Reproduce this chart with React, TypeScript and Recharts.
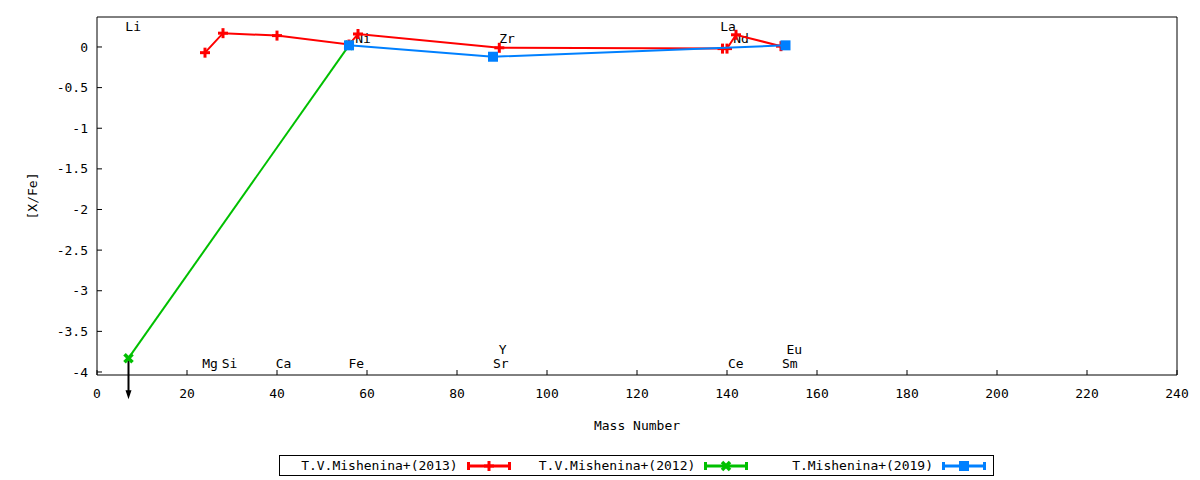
import React from 'react';
import { ScatterChart, Scatter, XAxis, YAxis } from 'recharts';

// T.V.Mishenina+(2013)
const redMass = [24, 28, 40, 56, 58, 89.4, 139, 140, 142, 152];
const redXFe = [-0.07, 0.17, 0.14, 0.03, 0.16, -0.01, -0.02, -0.02, 0.15, 0.01];
// T.V.Mishenina+(2012)
const greenMass = [7, 56];
const greenXFe = [-3.83, 0.02];
// T.Mishenina+(2019)
const blueMass = [56, 88, 153];
const blueXFe = [0.02, -0.12, 0.02];
// upper limit (arrow)
const limitMass = [7];
const limitXFe = [-3.83];

// element labels
const labelNames = ['Li', 'Ni', 'Zr', 'La', 'Nd', 'Mg', 'Si', 'Ca', 'Fe', 'Sr', 'Y', 'Ce', 'Sm', 'Eu'];
const labelMass = [6.3, 57.4, 89.4, 138.5, 141.4, 23.4, 27.7, 39.7, 55.9, 88, 89.3, 140.2, 152.2, 153.2];
const labelXFe = [0.25, 0.11, 0.11, 0.25, 0.11, -3.89, -3.89, -3.89, -3.89, -3.89, -3.72, -3.89, -3.89, -3.72];

const xTicks = [0, 20, 40, 60, 80, 100, 120, 140, 160, 180, 200, 220, 240];
const yTicks = [-4, -3.5, -3, -2.5, -2, -1.5, -1, -0.5, 0];

const legendNames = ['T.V.Mishenina+(2013)', 'T.V.Mishenina+(2012)', 'T.Mishenina+(2019)'];

const RED = '#ff0000';
const GREEN = '#00c000';
const BLUE = '#0080ff';
const FONT = '"DejaVu Sans Mono", monospace';
const X_DOMAIN = [0, 240];
const Y_DOMAIN = [-4.037, 0.369];

const toPoints = (xs: number[], ys: number[]) => xs.map((x, i) => ({ x, y: ys[i] }));
const redData = toPoints(redMass, redXFe);
const greenData = toPoints(greenMass, greenXFe);
const blueData = toPoints(blueMass, blueXFe);
const limitData = toPoints(limitMass, limitXFe);
const labelData = labelNames.map((name, i) => ({ x: labelMass[i], y: labelXFe[i], name }));

const Plus = ({ cx, cy, color }: any) => (
    <g stroke={color} strokeWidth={3}>
        <line x1={cx - 5} y1={cy} x2={cx + 5} y2={cy} />
        <line x1={cx} y1={cy - 5} x2={cx} y2={cy + 5} />
    </g>
);

const Cross = ({ cx, cy, color }: any) => (
    <g stroke={color} strokeWidth={3.5}>
        <line x1={cx - 4} y1={cy - 4} x2={cx + 4} y2={cy + 4} />
        <line x1={cx - 4} y1={cy + 4} x2={cx + 4} y2={cy - 4} />
    </g>
);

const Square = ({ cx, cy, color }: any) => (
    <rect x={cx - 5} y={cy - 5} width={10} height={10} fill={color} />
);

const Arrow = ({ cx, cy }: any) => (
    <g>
        <line x1={cx} y1={cy} x2={cx} y2={cy + 34} stroke="#000" strokeWidth={2} />
        <polygon points={`${cx - 3},${cy + 32} ${cx + 3},${cy + 32} ${cx},${cy + 41}`} fill="#000" />
    </g>
);

const Label = ({ cx, cy, payload }: any) => (
    <text x={cx} y={cy} dominantBaseline="central" fontFamily={FONT} fontSize={13} fill="#000">
        {payload.name}
    </text>
);

const YLabel = ({ viewBox }: any) => (
    <text
        transform={`translate(${viewBox.x - 5}, ${viewBox.y + viewBox.height / 2}) rotate(-90)`}
        textAnchor="middle"
        dominantBaseline="central"
        fontFamily={FONT}
        fontSize={13}
        fill="#000"
    >
        [X/Fe]
    </text>
);

const LegendSample = ({ color, marker }: any) => (
    <svg width={44} height={12} style={{ display: 'block' }}>
        <line x1={1} y1={6} x2={43} y2={6} stroke={color} strokeWidth={3} />
        <line x1={1.5} y1={2} x2={1.5} y2={10} stroke={color} strokeWidth={3} />
        <line x1={42.5} y1={2} x2={42.5} y2={10} stroke={color} strokeWidth={3} />
        {marker === 'plus' && <Plus cx={22} cy={6} color={color} />}
        {marker === 'cross' && <Cross cx={22} cy={6} color={color} />}
        {marker === 'square' && <Square cx={22} cy={6} color={color} />}
    </svg>
);

const legendColors = [RED, GREEN, BLUE];
const legendMarkers = ['plus', 'cross', 'square'];

const App = () => {
    return (
        <div style={{ position: 'relative', width: 1200, height: 480, background: '#fff' }}>
            <style>{'body{margin:0}'}</style>
            <ScatterChart width={1200} height={480} margin={{ top: 16, right: 22, bottom: 75, left: 37 }}>
                <XAxis
                    dataKey="x"
                    type="number"
                    domain={X_DOMAIN}
                    ticks={xTicks}
                    height={30}
                    stroke="#000"
                    tickSize={-5}
                    tickMargin={19}
                    tick={{ fill: '#000', fontFamily: FONT, fontSize: 13 }}
                    label={{ value: 'Mass Number', position: 'insideBottom', offset: -25, fill: '#000', fontFamily: FONT, fontSize: 13 }}
                />
                <XAxis
                    xAxisId="top"
                    orientation="top"
                    dataKey="x"
                    type="number"
                    domain={X_DOMAIN}
                    ticks={xTicks}
                    height={1}
                    stroke="#000"
                    tickSize={-5}
                    tick={false}
                />
                <YAxis
                    dataKey="y"
                    type="number"
                    domain={Y_DOMAIN}
                    ticks={yTicks}
                    width={60}
                    stroke="#000"
                    tickSize={-5}
                    tickMargin={14}
                    tick={{ fill: '#000', fontFamily: FONT, fontSize: 13 }}
                    label={<YLabel />}
                />
                <YAxis
                    yAxisId="right"
                    orientation="right"
                    dataKey="y"
                    type="number"
                    domain={Y_DOMAIN}
                    ticks={yTicks}
                    width={1}
                    stroke="#000"
                    tickSize={-5}
                    tick={false}
                />
                <Scatter data={labelData} xAxisId="top" yAxisId="right" shape={<Label />} isAnimationActive={false} />
                <Scatter
                    data={redData}
                    line={{ stroke: RED, strokeWidth: 2 }}
                    lineJointType="linear"
                    shape={(p: any) => <Plus cx={p.cx} cy={p.cy} color={RED} />}
                    isAnimationActive={false}
                />
                <Scatter data={limitData} shape={<Arrow />} isAnimationActive={false} />
                <Scatter
                    data={greenData}
                    line={{ stroke: GREEN, strokeWidth: 2 }}
                    lineJointType="linear"
                    shape={(p: any) => <Cross cx={p.cx} cy={p.cy} color={GREEN} />}
                    isAnimationActive={false}
                />
                <Scatter
                    data={blueData}
                    line={{ stroke: BLUE, strokeWidth: 2 }}
                    lineJointType="linear"
                    shape={(p: any) => <Square cx={p.cx} cy={p.cy} color={BLUE} />}
                    isAnimationActive={false}
                />
            </ScatterChart>

            {/* legend box */}
            <div
                style={{
                    position: 'absolute',
                    left: 279,
                    top: 455,
                    width: 713,
                    height: 19,
                    border: '1px solid #000',
                    display: 'flex',
                    fontFamily: FONT,
                    fontSize: 13,
                    color: '#000',
                }}
            >
                {legendNames.map((name, i) => (
                    <div
                        key={name}
                        style={{ width: 238, display: 'flex', alignItems: 'center', justifyContent: 'flex-end', paddingRight: 7, boxSizing: 'border-box' }}
                    >
                        <span style={{ marginRight: 9, lineHeight: '19px' }}>{name}</span>
                        <LegendSample color={legendColors[i]} marker={legendMarkers[i]} />
                    </div>
                ))}
            </div>
        </div>
    );
};

export default App;
